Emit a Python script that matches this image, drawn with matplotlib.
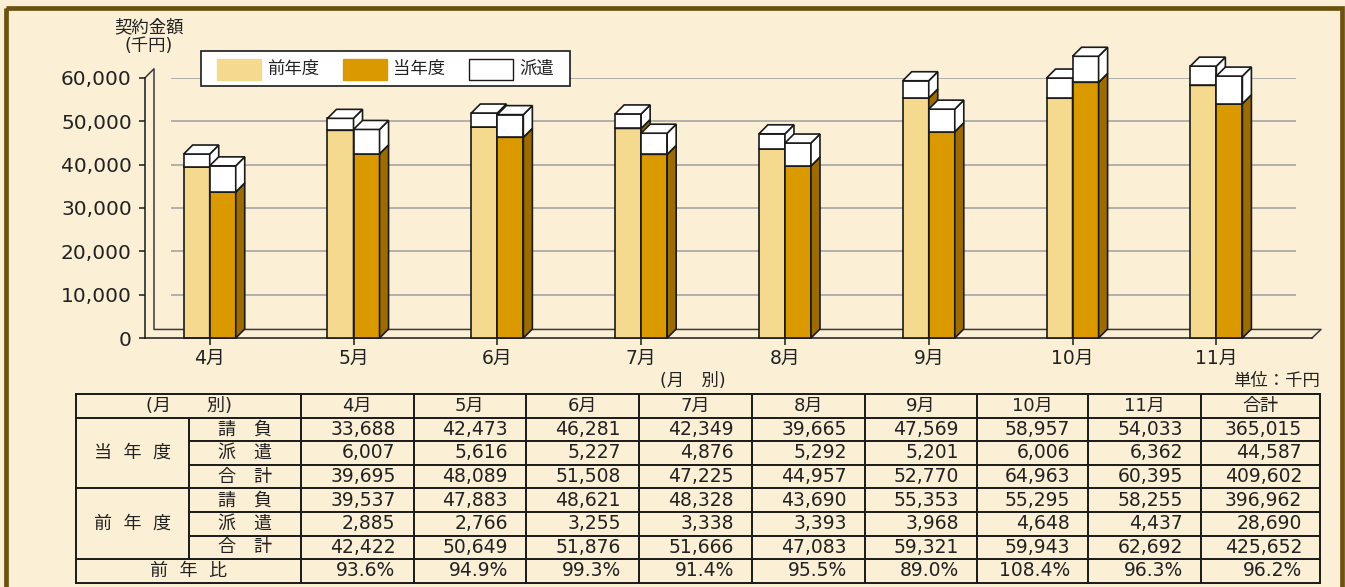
import numpy as np
import matplotlib
matplotlib.use('Agg')
import matplotlib.pyplot as plt
from matplotlib.patches import Rectangle

plt.rcParams['font.family'] = ['DejaVu Sans', 'Noto Sans CJK JP']

# data (千円)
months = ['4月', '5月', '6月', '7月', '8月', '9月', '10月', '11月']
cur_ukeoi = [33688, 42473, 46281, 42349, 39665, 47569, 58957, 54033]
cur_haken = [6007, 5616, 5227, 4876, 5292, 5201, 6006, 6362]
cur_total = [39695, 48089, 51508, 47225, 44957, 52770, 64963, 60395]
prev_ukeoi = [39537, 47883, 48621, 48328, 43690, 55353, 55295, 58255]
prev_haken = [2885, 2766, 3255, 3338, 3393, 3968, 4648, 4437]
prev_total = [42422, 50649, 51876, 51666, 47083, 59321, 59943, 62692]
ratio = [93.6, 94.9, 99.3, 91.4, 95.5, 89.0, 108.4, 96.3]
# 合計 column
cur_sum = [365015, 44587, 409602]
prev_sum = [396962, 28690, 425652]
ratio_sum = 96.2

W, H = 1345, 587
bg = '#FBEFD5'
c_prev = '#F5D98F'
c_cur = '#DB9900'
c_side = '#9C6C00'
c_line = '#1A1A1A'
c_grid = '#ABABA6'

fig = plt.figure(figsize=(W / 100, H / 100), dpi=100, facecolor=bg)

def px_box(x0, y0, x1, y1):
    return [x0 / W, 1 - y1 / H, (x1 - x0) / W, (y1 - y0) / H]

# ---- chart ----
ax = fig.add_axes(px_box(145, 77.8, 1312, 338), zorder=1)
ax.patch.set_visible(False)
xl, xr = -0.45, 7.665
ax.set_xlim(xl, xr)
ax.set_ylim(0, 60000)

# depth of the fake 3d, in data units
ddx = 9 * (xr - xl) / (1312 - 145)
ddy = 9 * 60000 / (338 - 77.8)
bw = 0.181

for s in ['top', 'right']:
    ax.spines[s].set_visible(False)
for s in ['left', 'bottom']:
    ax.spines[s].set_color(c_line)
    ax.spines[s].set_linewidth(1.1)

yt = np.arange(0, 60001, 10000)
ax.set_yticks(yt)
ax.set_yticklabels([f'{v:,}' for v in yt], fontsize=14.5, color='#222222')
ax.set_xticks(range(len(months)))
ax.set_xticklabels(months, fontsize=13.5, color='#222222')
ax.tick_params(axis='y', length=4.5, width=1.1, color=c_line, pad=5)
ax.tick_params(axis='x', length=5, width=1.1, color=c_line, pad=3)

# back wall / floor outline
ax.plot([xl, xl + ddx, xl + ddx, xr + ddx, xr],
        [60000, 60000 + ddy, ddy * 0.95, ddy * 0.95, 0],
        color='#3A3A3A', lw=1.1, clip_on=False, zorder=1)
gx0 = xl + 26 * (xr - xl) / (1312 - 145)
gx1 = xl + 1151 * (xr - xl) / (1312 - 145)
ax.hlines(yt[1:], gx0, gx1, color=c_grid, lw=1.3, zorder=0.5)

z = [2]

def box(x0, y0, y1, face, side):
    x1 = x0 + bw
    ax.bar(x0, y1 - y0, bottom=y0, width=bw, align='edge', color=face,
           edgecolor=c_line, linewidth=1.2, zorder=z[0], clip_on=False)
    ax.fill([x1, x1 + ddx, x1 + ddx, x1], [y0, y0 + ddy, y1 + ddy, y1],
            facecolor=side, edgecolor=c_line, linewidth=1.2, zorder=z[0] + 0.1, clip_on=False)
    ax.fill([x0, x1, x1 + ddx, x0 + ddx], [y1, y1, y1 + ddy, y1 + ddy],
            facecolor='white', edgecolor=c_line, linewidth=1.2, zorder=z[0] + 0.2, clip_on=False)
    z[0] += 1

for i in range(len(months)):
    box(i - bw, 0, prev_ukeoi[i], c_prev, c_side)
    box(i - bw, prev_ukeoi[i], prev_ukeoi[i] + prev_haken[i], 'white', 'white')
    box(i, 0, cur_ukeoi[i], c_cur, c_side)
    box(i, cur_ukeoi[i], cur_ukeoi[i] + cur_haken[i], 'white', 'white')

# ---- decorations and table in pixel coords ----
deco = fig.add_axes([0, 0, 1, 1], zorder=2)
deco.set_xlim(0, W)
deco.set_ylim(H, 0)
deco.axis('off')

deco.add_patch(Rectangle((6, 7.5), 1335.5, 590, fill=False, edgecolor='#6B5211', lw=3.4))

deco.text(149, 27, '契約金額', ha='center', va='center', fontsize=12.5, color='#222222')
deco.text(149, 46, '(千円)', ha='center', va='center', fontsize=12.5, color='#222222')

# legend
deco.add_patch(Rectangle((201, 51), 369, 35, facecolor='white', edgecolor=c_line, lw=1.2))
leg = [('前年度', c_prev, 217), ('当年度', c_cur, 343), ('派遣', 'white', 469)]
for name, col, lx in leg:
    deco.add_patch(Rectangle((lx, 58.5), 44, 21, facecolor=col,
                             edgecolor=c_line if col == 'white' else col, lw=1))
    deco.text(lx + 50, 69, name, ha='left', va='center', fontsize=12.5, color='#222222')

deco.text(693, 381, '(月　別)', ha='center', va='center', fontsize=12.5, color='#222222')
deco.text(1320, 381, '単位：千円', ha='right', va='center', fontsize=12.5, color='#222222')

# table
col_edges = [76, 188.5, 301, 413.5, 526, 639, 752, 865, 977, 1088, 1201, 1320]
t_top, row_h = 394, 23.6
row_y = [t_top + k * row_h for k in range(9)]
tfs = 13.5
tc = '#222222'
lw_t = 1.4

# horizontal lines
for k in range(9):
    x_start = col_edges[1] if k in (2, 3, 5, 6) else col_edges[0]
    deco.plot([x_start, col_edges[-1]], [row_y[k], row_y[k]], color=c_line, lw=lw_t,
              solid_capstyle='projecting')
# vertical lines
for j, xe in enumerate(col_edges):
    if j == 1:
        deco.plot([xe, xe], [row_y[1], row_y[7]], color=c_line, lw=lw_t)
    else:
        deco.plot([xe, xe], [row_y[0], row_y[8]], color=c_line, lw=lw_t)

def cy(k):
    return (row_y[k] + row_y[k + 1]) / 2

deco.text((col_edges[0] + col_edges[2]) / 2, cy(0), '(月　　別)', ha='center', va='center',
          fontsize=tfs - 0.5, color=tc)
heads = months + ['合計']
for j, h in enumerate(heads):
    deco.text((col_edges[j + 2] + col_edges[j + 3]) / 2, cy(0), h, ha='center', va='center',
              fontsize=tfs - 0.5, color=tc)

deco.text((col_edges[0] + col_edges[1]) / 2, cy(2), '当  年  度', ha='center', va='center',
          fontsize=tfs - 0.5, color=tc)
deco.text((col_edges[0] + col_edges[1]) / 2, cy(5), '前  年  度', ha='center', va='center',
          fontsize=tfs - 0.5, color=tc)
deco.text((col_edges[0] + col_edges[2]) / 2, cy(7), '前  年  比', ha='center', va='center',
          fontsize=tfs - 0.5, color=tc)

sub = ['請　負', '派　遣', '合　計']
rows = [cur_ukeoi, cur_haken, cur_total, prev_ukeoi, prev_haken, prev_total]
sums = cur_sum + prev_sum
for r in range(6):
    deco.text((col_edges[1] + col_edges[2]) / 2, cy(r + 1), sub[r % 3], ha='center',
              va='center', fontsize=tfs - 0.5, color=tc)
    vals = rows[r] + [sums[r]]
    for j, v in enumerate(vals):
        deco.text(col_edges[j + 3] - 18, cy(r + 1), f'{v:,}', ha='right', va='center',
                  fontsize=tfs, color=tc)
for j, v in enumerate(ratio + [ratio_sum]):
    deco.text(col_edges[j + 3] - 18, cy(7), f'{v:.1f}%', ha='right', va='center',
              fontsize=tfs, color=tc)

fig.savefig('out.png', dpi=100, facecolor=bg)
